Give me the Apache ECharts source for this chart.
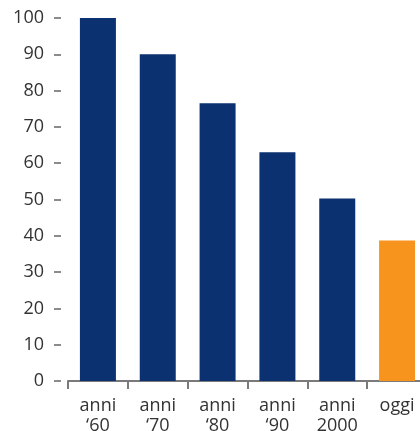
<!DOCTYPE html>
<html>
<head>
<meta charset="utf-8">
<style>
  html, body { margin: 0; padding: 0; background: #fff; }
  #chart { width: 420px; height: 431px; }
</style>
<script src="https://cdn.jsdelivr.net/npm/echarts@6/dist/echarts.min.js"></script>
</head>
<body>
<div id="chart"></div>
<script>
// Index by decade (anni '60 = 100)
const categories = ['anni\n\u201860', 'anni\n\u201870', 'anni\n\u201880', 'anni\n\u201890', 'anni\n2000', 'oggi'];
const values = [100, 90, 76.5, 63, 50.3, 38.7];
const barColors = ['#0b3170', '#0b3170', '#0b3170', '#0b3170', '#0b3170', '#f7941d'];

const font = '"Open Sans", "Noto Sans", sans-serif';

const chart = echarts.init(document.getElementById('chart'), null, { renderer: 'canvas' });
chart.setOption({
  animation: false,
  grid: {
    left: 68, top: 18, bottom: 50, width: 359,
    containLabel: false, outerBoundsMode: 'none'
  },
  xAxis: {
    type: 'category',
    data: categories,
    axisLine: { lineStyle: { color: '#7a7a7a', width: 2 } },
    axisTick: { show: true, length: 8, lineStyle: { color: '#7a7a7a', width: 2 } },
    axisLabel: {
      color: '#333', fontSize: 18, fontFamily: font, lineHeight: 20, margin: 15, interval: 0
    }
  },
  yAxis: {
    type: 'value',
    min: 0, max: 100, interval: 10,
    offset: 7,
    axisLine: { show: false },
    axisTick: { show: true, length: 7, lineStyle: { color: '#666', width: 1.5 } },
    splitLine: { show: false },
    axisLabel: { color: '#333', fontSize: 18, fontFamily: font, margin: 17 }
  },
  series: [{
    type: 'bar',
    barWidth: 36,
    data: values.map((v, i) => ({ value: v, itemStyle: { color: barColors[i] } }))
  }]
});
</script>
</body>
</html>
